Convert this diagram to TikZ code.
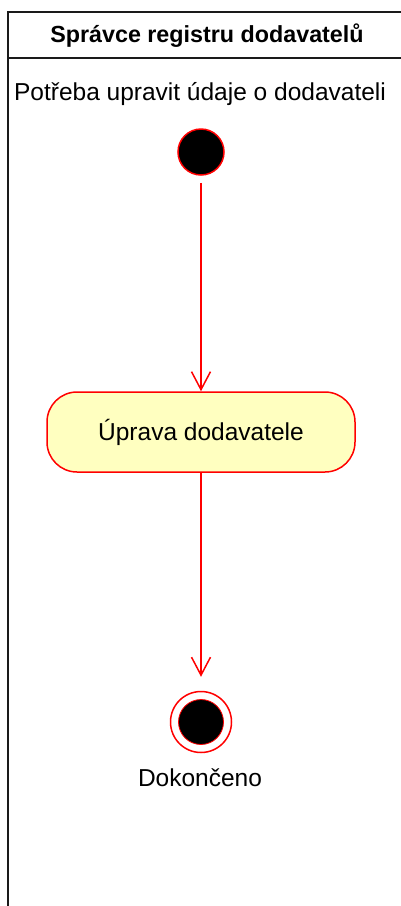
\documentclass[tikz,border=0pt]{standalone}
\usepackage{fontspec}
\setmainfont{Liberation Sans}
\usepackage{xcolor}
\usepackage{tikz}
\usetikzlibrary{arrows, arrows.meta}

\definecolor{umlred}{HTML}{FF0000}
\definecolor{umlfill}{HTML}{FFFFC0}
\definecolor{lanegray}{HTML}{1A1A1A}

\tikzset{
	lane/.style={draw=lanegray, line width=1.6pt},
	txt/.style={inner sep=0pt, font=\fontsize{24.5}{29}\selectfont},
	initial/.style={circle, draw=umlred, fill=black, line width=1.5pt, minimum size=46pt, inner sep=0pt},
	finalring/.style={circle, draw=umlred, fill=white, line width=1.5pt, minimum size=61pt, inner sep=0pt},
	finalcore/.style={circle, draw=umlred, fill=black, line width=0.8pt, minimum size=45pt, inner sep=0pt},
	action/.style={draw=umlred, fill=umlfill, line width=1.5pt, rounded corners=30pt, minimum width=308pt, minimum height=80pt, inner sep=0pt, font=\fontsize{24.5}{29}\selectfont},
	flow/.style={draw=umlred, line width=1.5pt, -{Straight Barb[length=18pt, width=19pt, line width=1.5pt]}}
}

\begin{document}
\begin{tikzpicture}[x=1pt, y=-1pt]
				\useasboundingbox (0,0) rectangle (401,906);
				% lane
				\coordinate (laneTL) at (8,12);
				\coordinate (laneTR) at (401,12);
				\coordinate (laneBL) at (8,906);
				\coordinate (headL) at (8,58);
				\coordinate (headR) at (401,58);
				\draw[lane] (laneTR) -- (laneTL) -- (laneBL);
				\draw[lane] (headL) -- (headR);
				\node[txt, font=\fontsize{23.3}{28}\selectfont\bfseries] (lanetitle) at (207,36){Správce registru dodavatelů};
				% nodes
				\node[txt] (startlabel) at (200,94){Potřeba upravit údaje o dodavateli};
				\node[initial] (start) at (201,152){};
				\node[action] (edit) at (201,432){Úprava dodavatele};
				\node[finalring] (end) at (201,722){};
				\node[finalcore] (endcore) at (201,722){};
				\node[txt] (endlabel) at (200,778){Dokončeno};
				% flows
				\draw[flow] ([yshift=-7pt]start.south) -- (edit.north);
				\draw[flow] (edit.south) -- ([yshift=14pt]end.north);
			\end{tikzpicture}
\end{document}
